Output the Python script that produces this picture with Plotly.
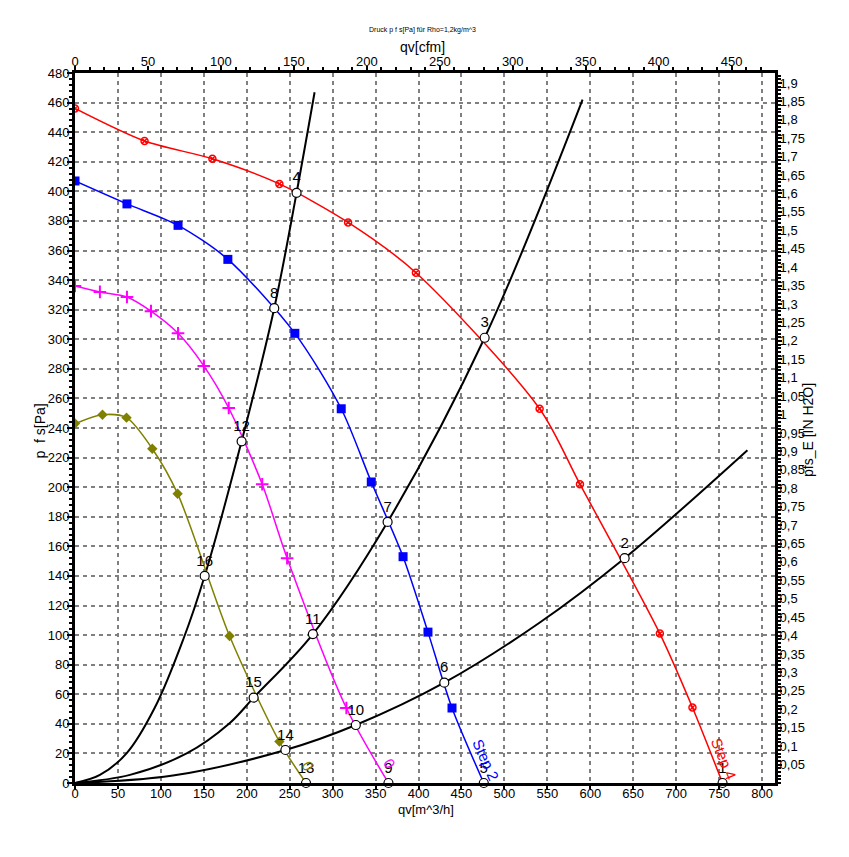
import plotly.graph_objects as go

step4_qv = [0, 81, 160, 238, 318, 397, 541, 588, 681, 719]
step4_p = [456, 434, 422, 405, 379, 345, 253, 202, 101, 51]
step4_end = 754

step2_qv = [0, 60.5, 120, 178, 256, 310, 345, 382, 411, 439]
step2_p = [407, 391.5, 377, 354, 304, 253, 203.5, 153, 102, 50.7]
step2_end = 476

step0_qv = [0, 29, 60.5, 88.5, 120, 150, 179, 218, 247, 316]
step0_p = [336, 332, 328.6, 319, 304, 282, 253.5, 202, 152, 50.7]
step0_end = 365

olive_qv = [0, 32, 60, 90, 119.5, 180, 238]
olive_p = [243, 249, 247, 226, 195.6, 99.4, 28]
olive_end = 269

# system curves
sysA_qv = [0, 29, 60, 93, 126, 151, 194, 232, 258, 279]
sysA_p = [0, 5.5, 20, 51, 97, 140, 231, 321, 399, 467]
sysB_qv = [0, 64, 130, 180, 208, 277, 364, 477, 591]
sysB_p = [0, 5.5, 20, 40.4, 57.7, 100.7, 176.5, 301, 462]
sysC_qv = [0, 114, 245, 327, 430, 540, 640, 783]
sysC_p = [0, 5, 22.3, 39.2, 67.8, 108, 152, 225]

# operating points
op_qv = [754, 640, 477, 258, 476, 430, 364, 232, 365, 327, 277, 194, 269, 245, 208, 151]
op_p = [0, 152, 301, 399, 0, 67.8, 176.5, 321, 0, 39.2, 100.7, 231, 0, 22.3, 57.7, 140]
op_lbl = [str(i) for i in range(1, 17)]

# right axis (in H2O)
inh2o_ticks = [round(0.05 * i, 2) for i in range(1, 39)]
inh2o_text = [("%g" % v).replace(".", ",") for v in inh2o_ticks]

PA_PER_INH2O = 249.09
M3H_PER_CFM = 1.699
XMAX = 815.1
YMAX = 480

font = "Arial, Liberation Sans, sans-serif"

fig = go.Figure()

for q, p in [(sysA_qv, sysA_p), (sysB_qv, sysB_p), (sysC_qv, sysC_p)]:
    fig.add_trace(go.Scatter(x=q, y=p, mode="lines", line=dict(color="black", width=2, shape="spline"),
                             hoverinfo="skip"))

curves = [
    (step4_qv, step4_p, step4_end, "#ff0000", dict(symbol="circle-x-open", size=7, line=dict(width=1.5))),
    (step2_qv, step2_p, step2_end, "#0000ff", dict(symbol="square", size=9)),
    (step0_qv, step0_p, step0_end, "#ff00ff", dict(symbol="cross-thin-open", size=9, line=dict(width=2))),
    (olive_qv, olive_p, olive_end, "#808000", dict(symbol="diamond", size=8)),
]
for q, p, end, col, mk in curves:
    fig.add_trace(go.Scatter(x=q + [end], y=p + [0], mode="lines",
                             line=dict(color=col, width=1.5, shape="spline", smoothing=0.8)))
    mk["color"] = col
    if "line" in mk:
        mk["line"]["color"] = col
    fig.add_trace(go.Scatter(x=q, y=p, mode="markers", marker=mk))

fig.add_trace(go.Scatter(x=op_qv, y=op_p, mode="markers+text", text=op_lbl,
                         textposition="top center",
                         textfont=dict(family=font, size=15, color="black"),
                         marker=dict(symbol="circle", size=9, color="white",
                                     line=dict(color="black", width=1.2)),
                         cliponaxis=False))

# dummy trace for the secondary axes
fig.add_trace(go.Scatter(x=[0], y=[0], xaxis="x2", yaxis="y2", mode="markers",
                         marker=dict(opacity=0), hoverinfo="skip"))

grid = dict(showgrid=True, gridcolor="#808080", griddash="4px,4px", gridwidth=1.5)
axline = dict(showline=True, linecolor="black", linewidth=3, zeroline=False,
              tickfont=dict(family=font, size=13, color="black"),
              ticks="outside", tickcolor="black", tickwidth=1.5)
minor_t = dict(ticks="outside", ticklen=3, tickcolor="black")

# the page body adds an 8px offset, so margins are shifted to compensate
fig.update_layout(
    width=849, height=857,
    margin=dict(l=67, r=82, t=65, b=82),
    paper_bgcolor="white", plot_bgcolor="white",
    showlegend=False,
    separators=",.",
    xaxis=dict(range=[0, XMAX], tickvals=list(range(0, 801, 50)), ticklen=3,
               ticklabelstandoff=-7, **grid, **axline),
    yaxis=dict(range=[0, YMAX], dtick=20, ticklen=5, ticklabelstandoff=-5,
               minor=dict(dtick=4, **minor_t), **grid, **axline),
    xaxis2=dict(overlaying="x", side="top", anchor="y", range=[0, XMAX / M3H_PER_CFM], dtick=50,
                ticklen=4, ticklabelstandoff=-5,
                minor=dict(dtick=10, **minor_t), showgrid=False, **axline),
    yaxis2=dict(overlaying="y", side="right", anchor="x", range=[0, YMAX / PA_PER_INH2O],
                tickvals=inh2o_ticks, ticktext=inh2o_text, ticklen=4, ticklabelstandoff=-5,
                minor=dict(dtick=0.01, **minor_t), showgrid=False, **axline),
)

ann = [
    dict(text="Druck p f s[Pa] für Rho=1,2kg/m^3", x=0.497, y=1.06, font=dict(size=7)),
    dict(text="qv[cfm]", x=0.497, y=1.037, font=dict(size=14)),
    dict(text="qv[m^3/h]", x=0.501, y=-0.038, font=dict(size=13)),
    dict(text="p  f s[Pa]", x=-0.05, y=0.495, textangle=-90, font=dict(size=14)),
    dict(text="pfs_E [IN H2O]", x=1.047, y=0.497, textangle=-90, font=dict(size=14)),
]
for a in ann:
    a["font"].update(family=font, color="black")
    fig.add_annotation(xref="paper", yref="paper", showarrow=False,
                       xanchor="center", yanchor="middle", **a)

for txt, qx, py, col, ang in [("Step 4", 755.8, 16.9, "#ff0000", 68),
                              ("Step 2", 478.6, 16.2, "#0000ff", 66),
                              ("0", 366.8, 13.5, "#ff00ff", 60),
                              ("0", 271, 12, "#808000", 60)]:
    fig.add_annotation(x=qx, y=py, text=txt, showarrow=False, textangle=ang,
                       font=dict(family=font, size=15, color=col))

fig.write_html("out.html")
